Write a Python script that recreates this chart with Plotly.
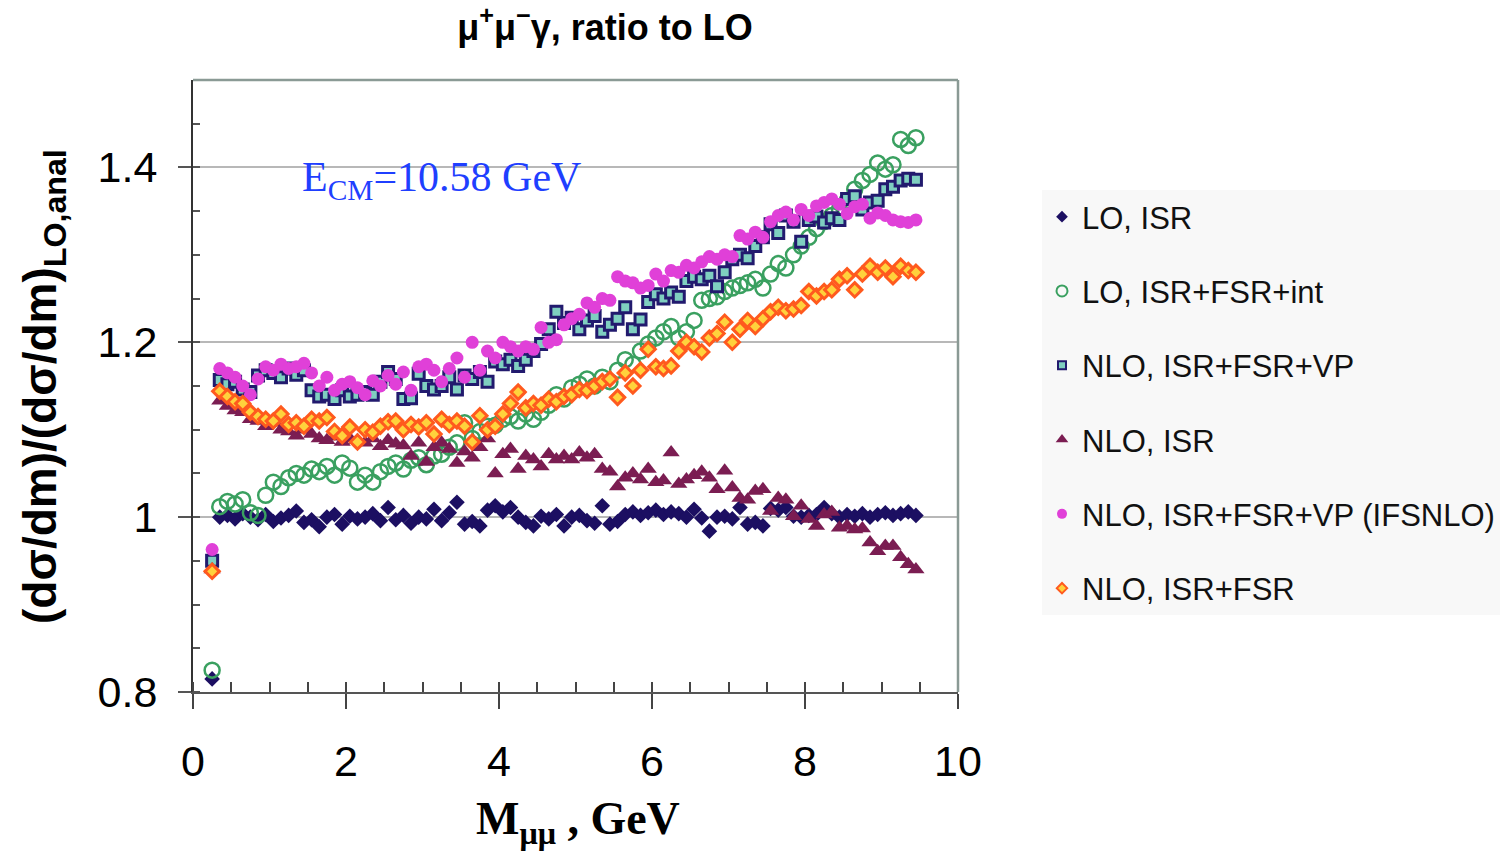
import numpy as np
import plotly.graph_objects as go

# x grid (GeV), 0.1 GeV bins starting at 0.25
m_mumu = [round(0.25 + 0.1 * i, 2) for i in range(93)]

lo_isr = [
    0.815, 1.000, 1.002, 0.998, 1.004, 1.000, 0.997, 1.003, 0.995, 0.999,
    1.002, 1.007, 0.994, 0.997, 0.989, 1.000, 1.003, 0.992, 1.001, 0.998,
    1.000, 1.004, 0.996, 1.011, 0.997, 1.002, 0.993, 1.000, 0.998, 1.009,
    0.996, 1.005, 1.017, 0.992, 0.995, 0.990, 1.008, 1.013, 1.006, 1.011,
    1.000, 0.994, 0.990, 1.001, 0.998, 1.003, 0.990, 1.000, 1.002, 0.996,
    0.993, 1.013, 0.992, 0.995, 1.003, 1.006, 1.002, 1.005, 1.008, 1.003,
    1.006, 1.004, 1.000, 1.009, 0.999, 0.984, 1.000, 1.001, 0.998, 1.011,
    0.992, 0.994, 0.990, 1.010, 1.008, 1.011, 1.001, 1.000, 1.002, 1.003,
    1.011, 1.004, 1.000, 1.003, 1.001, 1.004, 1.000, 1.003, 1.005, 1.002,
    1.004, 1.006, 1.002,
]

lo_isr_fsr_int = [
    0.825, 1.012, 1.018, 1.015, 1.020, 1.005, 1.002, 1.025, 1.040, 1.035,
    1.045, 1.050, 1.048, 1.055, 1.052, 1.058, 1.048, 1.062, 1.056, 1.040,
    1.048, 1.040, 1.052, 1.058, 1.062, 1.055, 1.065, 1.068, 1.060, 1.070,
    1.072, 1.080, 1.085, 1.108, 1.090, 1.098, 1.104, 1.105, 1.112, 1.115,
    1.110, 1.118, 1.112, 1.120, 1.128, 1.140, 1.135, 1.148, 1.152, 1.158,
    1.150, 1.160, 1.155, 1.168, 1.180, 1.175, 1.190, 1.198, 1.205, 1.212,
    1.218, 1.205, 1.212, 1.225, 1.248, 1.250, 1.252, 1.258, 1.262, 1.265,
    1.268, 1.272, 1.262, 1.278, 1.290, 1.285, 1.300, 1.310, 1.320, 1.330,
    1.338, 1.345, 1.352, 1.362, 1.375, 1.385, 1.392, 1.405, 1.398, 1.403,
    1.432, 1.425, 1.434,
]

nlo_isr_fsr_vp = [
    0.950, 1.157, 1.152, 1.155, 1.146, 1.143, 1.162, 1.168, 1.165, 1.160,
    1.170, 1.163, 1.168, 1.145, 1.138, 1.140, 1.135, 1.145, 1.138, 1.140,
    1.143, 1.140, 1.155, 1.166, 1.158, 1.135, 1.136, 1.164, 1.150, 1.146,
    1.150, 1.160, 1.146, 1.162, 1.158, 1.166, 1.155, 1.178, 1.175, 1.180,
    1.173, 1.180, 1.190, 1.198, 1.215, 1.235, 1.222, 1.228, 1.215, 1.225,
    1.230, 1.212, 1.220, 1.227, 1.240, 1.215, 1.226, 1.246, 1.255, 1.250,
    1.257, 1.252, 1.270, 1.275, 1.272, 1.276, 1.264, 1.280, 1.295, 1.300,
    1.296, 1.310, 1.320, 1.335, 1.325, 1.345, 1.338, 1.315, 1.340, 1.344,
    1.337, 1.342, 1.340, 1.364, 1.367, 1.352, 1.360, 1.362, 1.375, 1.378,
    1.385, 1.387, 1.386,
]

nlo_isr = [
    0.940, 1.133, 1.127, 1.122, 1.120, 1.112, 1.110, 1.104, 1.108, 1.100,
    1.098, 1.093, 1.100, 1.095, 1.090, 1.088, 1.092, 1.086, 1.090, 1.088,
    1.085, 1.090, 1.081, 1.088, 1.084, 1.082, 1.070, 1.085, 1.063, 1.080,
    1.085, 1.078, 1.062, 1.075, 1.068, 1.080, 1.090, 1.050, 1.072, 1.078,
    1.055, 1.070, 1.066, 1.058, 1.072, 1.066, 1.070, 1.066, 1.074, 1.068,
    1.072, 1.055, 1.052, 1.035, 1.045, 1.050, 1.043, 1.055, 1.040, 1.042,
    1.074, 1.038, 1.043, 1.048, 1.052, 1.045, 1.032, 1.053, 1.034, 1.022,
    1.020, 1.030, 1.032, 1.007, 1.022, 1.020, 1.001, 1.013, 0.998, 0.990,
    1.003, 1.006, 0.988, 0.990, 0.986, 0.987, 0.971, 0.961, 0.967, 0.967,
    0.954, 0.946, 0.940,
]

nlo_ifsnlo = [
    0.963, 1.170, 1.165, 1.160, 1.150, 1.140, 1.158, 1.172, 1.168, 1.175,
    1.170, 1.172, 1.176, 1.165, 1.150, 1.160, 1.145, 1.152, 1.155, 1.148,
    1.140, 1.156, 1.150, 1.162, 1.152, 1.166, 1.145, 1.172, 1.175, 1.168,
    1.155, 1.170, 1.182, 1.160, 1.200, 1.168, 1.190, 1.182, 1.200, 1.195,
    1.190, 1.195, 1.192, 1.217, 1.200, 1.203, 1.220, 1.227, 1.232, 1.245,
    1.240, 1.250, 1.248, 1.275, 1.270, 1.268, 1.262, 1.265, 1.278, 1.270,
    1.282, 1.280, 1.288, 1.285, 1.292, 1.298, 1.295, 1.300, 1.298, 1.322,
    1.318, 1.326, 1.320, 1.338, 1.345, 1.349, 1.340, 1.352, 1.345, 1.356,
    1.360, 1.364, 1.358, 1.347, 1.355, 1.358, 1.342, 1.348, 1.345, 1.340,
    1.338, 1.337, 1.340,
]

nlo_isr_fsr = [
    0.938, 1.144, 1.138, 1.132, 1.130, 1.120, 1.115, 1.112, 1.110, 1.118,
    1.106, 1.108, 1.104, 1.112, 1.110, 1.114, 1.098, 1.093, 1.103, 1.086,
    1.100, 1.097, 1.104, 1.109, 1.110, 1.100, 1.106, 1.103, 1.108, 1.095,
    1.112, 1.106, 1.110, 1.104, 1.086, 1.116, 1.100, 1.104, 1.118, 1.130,
    1.143, 1.125, 1.130, 1.128, 1.135, 1.132, 1.138, 1.140, 1.146, 1.145,
    1.150, 1.155, 1.158, 1.137, 1.165, 1.150, 1.168, 1.192, 1.172, 1.170,
    1.173, 1.190, 1.200, 1.195, 1.189, 1.205, 1.210, 1.223, 1.200, 1.215,
    1.225, 1.218, 1.227, 1.235, 1.240, 1.236, 1.238, 1.242, 1.258, 1.253,
    1.258, 1.260, 1.272, 1.276, 1.260, 1.278, 1.287, 1.280, 1.285, 1.275,
    1.287, 1.282, 1.280,
]

series_names = ["LO, ISR", "LO, ISR+FSR+int", "NLO, ISR+FSR+VP", "NLO, ISR",
                "NLO, ISR+FSR+VP (IFSNLO)", "NLO, ISR+FSR"]
series_values = [lo_isr, lo_isr_fsr_int, nlo_isr_fsr_vp, nlo_isr, nlo_ifsnlo, nlo_isr_fsr]

styles = [
    dict(symbol="diamond", size=12, color="#1c0f62", line=dict(width=0)),
    dict(symbol="circle-open", size=15, color="#3aa060", line=dict(width=2.5, color="#3aa060")),
    dict(symbol="square", size=11, color="#7fcfc0", line=dict(width=3, color="#221a6e")),
    dict(symbol="triangle-up", size=15, color="#7b1d52", line=dict(width=0)),
    dict(symbol="circle", size=13, color="#e040d8", line=dict(width=0)),
    dict(symbol="diamond", size=11, color="#ffd23c", line=dict(width=3, color="#ff5a1e")),
]
legend_styles = [
    dict(symbol="diamond", size=9, color="#1c0f62"),
    dict(symbol="circle-open", size=11, color="#3aa060", line=dict(width=2, color="#3aa060")),
    dict(symbol="square", size=8, color="#7fcfc0", line=dict(width=2, color="#221a6e")),
    dict(symbol="triangle-up", size=11, color="#7b1d52"),
    dict(symbol="circle", size=10, color="#e040d8"),
    dict(symbol="diamond", size=8, color="#ffd23c", line=dict(width=2, color="#ff5a1e")),
]

fig = go.Figure()
for name, vals, st in zip(series_names, series_values, styles):
    fig.add_trace(go.Scatter(x=m_mumu, y=vals, mode="markers", name=name,
                             marker=st, showlegend=False, cliponaxis=False))
for i, (name, st) in enumerate(zip(series_names, legend_styles)):
    fig.add_trace(go.Scatter(x=[None], y=[None], mode="markers", name=name,
                             marker=st, showlegend=True, legendgroup="g%d" % i))

fig.update_layout(
    width=1503, height=853,
    margin=dict(l=193, r=545, t=80, b=161, autoexpand=False),
    paper_bgcolor="white", plot_bgcolor="white",
    font=dict(family="Liberation Sans, Arial, sans-serif", color="black"),
    title=dict(text="<b>μ<sup>+</sup>μ<sup>−</sup>γ, ratio to LO</b>",
               x=605 / 1503, xanchor="center", xref="container",
               y=1 - 27 / 853, yanchor="middle", yref="container",
               font=dict(size=36, family="Liberation Sans Narrow, Liberation Sans, Arial")),
    showlegend=True,
    legend=dict(x=(1042 - 193) / 765, xanchor="left", y=(692 - 190) / 612, yanchor="top",
                bgcolor="#f8f8f8", font=dict(size=31, color="#111"),
                tracegroupgap=31, itemsizing="trace"),
)

fig.update_xaxes(range=[0, 10], tickvals=[0, 2, 4, 6, 8, 10],
                 ticks="outside", ticklen=15, tickwidth=2, tickcolor="#444",
                 tickfont=dict(size=43), ticklabelstandoff=15,
                 showgrid=False, zeroline=False,
                 showline=True, linecolor="#555", linewidth=2,
                 minor=dict(dtick=0.5, ticks="inside", ticklen=10, tickwidth=2, tickcolor="#444",
                            showgrid=False))
fig.update_yaxes(range=[0.8, 1.5], tickvals=[0.8, 1.0, 1.2, 1.4], ticktext=["0.8", "1", "1.2", "1.4"],
                 ticks="outside", ticklen=13, tickwidth=2, tickcolor="#555",
                 tickfont=dict(size=43), ticklabelstandoff=12,
                 showgrid=True, gridcolor="#b8b8b8", gridwidth=1.5, zeroline=False,
                 showline=True, linecolor="#333", linewidth=2,
                 minor=dict(dtick=0.05, tick0=0.8, ticks="inside", ticklen=7, tickwidth=2,
                            tickcolor="#555", showgrid=False))

# frame top/right
fig.add_shape(type="line", xref="paper", yref="paper", x0=0, x1=1, y0=1, y1=1,
              line=dict(color="#8a9a95", width=2.5))
fig.add_shape(type="line", xref="paper", yref="paper", x0=1, x1=1, y0=0, y1=1,
              line=dict(color="#8a9a95", width=2.5))

fig.add_annotation(text="E<sub>CM</sub>=10.58 GeV", x=(300 - 193) / 765, y=(692 - 180) / 612,
                   xref="paper", yref="paper", xanchor="left", yanchor="middle", showarrow=False,
                   font=dict(family="Liberation Serif, Times New Roman, serif", size=42, color="#1f3fff"))
fig.add_annotation(text="<b>(dσ/dm)/(dσ/dm)<sub>LO,anal</sub></b>", textangle=-90,
                   x=(43 - 193) / 765, y=(692 - 387) / 612, xref="paper", yref="paper",
                   xanchor="center", yanchor="middle", showarrow=False,
                   font=dict(size=46, family="Liberation Sans, Arial"))
fig.add_annotation(text="<b>M<sub>μμ</sub> , GeV</b>",
                   x=(578 - 193) / 765, y=-(822 - 692) / 612, xref="paper", yref="paper",
                   xanchor="center", yanchor="middle", showarrow=False,
                   font=dict(size=46, family="Liberation Serif, Times New Roman, serif"))

fig.write_html("out.html")
